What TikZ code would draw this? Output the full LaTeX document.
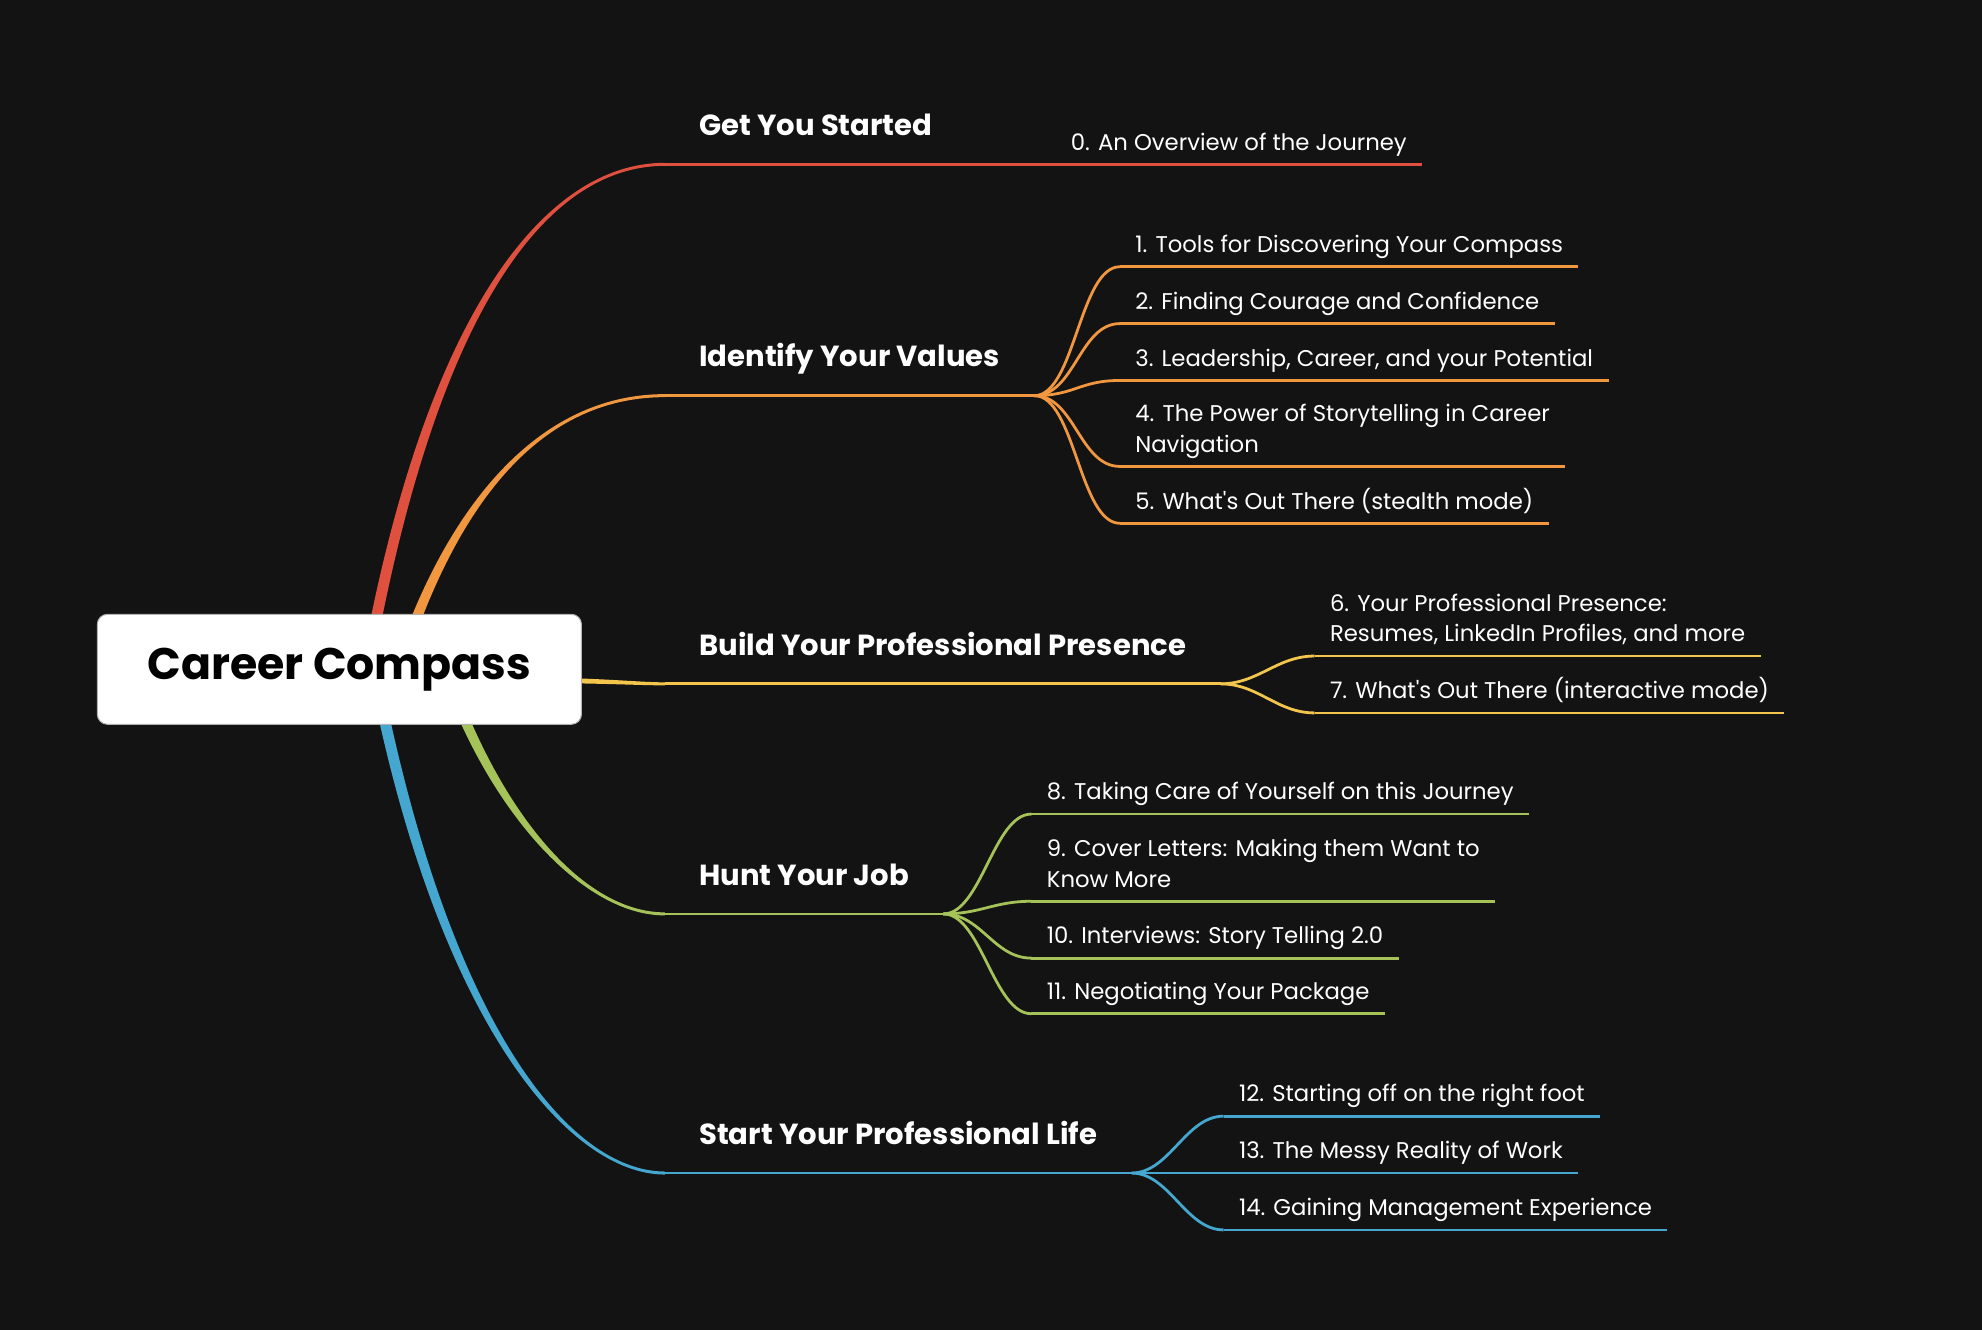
\documentclass[tikz,border=0pt]{standalone}
\usepackage{fontspec}
\setmainfont{Poppins}
\usetikzlibrary{calc}

\definecolor{bgDark}{HTML}{131313}
\definecolor{capRed}{HTML}{E0503F}
\definecolor{capOrange}{HTML}{F0973F}
\definecolor{capYellow}{HTML}{F4C54C}
\definecolor{capGreen}{HTML}{A6C35A}
\definecolor{capBlue}{HTML}{45A7CF}

\pgfdeclarelayer{bgLayer}
\pgfdeclarelayer{lineLayer}
\pgfsetlayers{bgLayer,lineLayer,main}

\newcommand{\lowEnd}{\rule[-5pt]{0pt}{5pt}}
\newcommand{\mainBranch}[6]{%
  \fill[#1] ($#2+(-4.5,0)$) .. controls ($#3+(-4.5,0)$) and ($#4+(0,{-(#6)})$) .. ($(#5)+(0,{-(#6)})$)
    -- ($(#5)+(0,{#6})$) .. controls ($#4+(0,{#6})$) and ($#3+(4.5,0)$) .. ($#2+(4.5,0)$) -- cycle;}

\begin{document}
\begin{tikzpicture}[x=1pt, y=-1pt,
  rootNode/.style={rounded corners=8pt, fill=white, draw=gray!60, line width=0.8pt, minimum width=383pt, minimum height=87pt, text=black, font=\fontsize{35}{42}\selectfont\bfseries},
  headNode/.style={anchor=south west, inner xsep=27pt, inner ysep=22.5pt, text depth=0pt, text=white, font=\fontsize{23}{28}\selectfont\bfseries},
  subNode/.style={anchor=south west, inner xsep=12pt, inner ysep=6pt, align=left, text=white, font=\fontsize{18}{24}\selectfont},
  edgeLine/.style={line width=2.2pt}
]
\useasboundingbox (0,0) rectangle (1568,1052);
\begin{pgfonlayer}{bgLayer}
\fill[bgDark] (0,0) rectangle (1568,1052);
\end{pgfonlayer}

\node[rootNode] (root) at (268.5,529.5) {Career Compass};

\node[headNode] (h0) at (526,130) {Get You Started};
\node[headNode] (h1) at (526,313) {Identify Your Values};
\node[headNode] (h2) at (526,541) {Build Your Professional Presence};
\node[headNode] (h3) at (526,723) {Hunt Your Job};
\node[headNode] (h4) at (526,928) {Start Your Professional Life};

\node[subNode] (s0)  at (835,130)  {0. An Overview of the Journey\lowEnd};
\node[subNode] (s1)  at (886,211)  {1. Tools for Discovering Your Compass\lowEnd};
\node[subNode] (s2)  at (886,256)  {2. Finding Courage and Confidence\lowEnd};
\node[subNode] (s3)  at (886,301)  {3. Leadership, Career, and your Potential\lowEnd};
\node[subNode] (s4)  at (886,369)  {4. The Power of Storytelling in Career\\Navigation\lowEnd};
\node[subNode] (s5)  at (886,414)  {5. What\textquotesingle s Out There (stealth mode)\lowEnd};
\node[subNode] (s6)  at (1040,519) {6. Your Professional Presence:\\Resumes, LinkedIn Profiles, and more\lowEnd};
\node[subNode] (s7)  at (1040,564) {7. What\textquotesingle s Out There (interactive mode)\lowEnd};
\node[subNode] (s8)  at (816,644)  {8. Taking Care of Yourself on this Journey\lowEnd};
\node[subNode] (s9)  at (816,713)  {9. Cover Letters: Making them Want to\\Know More\lowEnd};
\node[subNode] (s10) at (816,758)  {10. Interviews: Story Telling 2.0\lowEnd};
\node[subNode] (s11) at (816,802)  {11. Negotiating Your Package\lowEnd};
\node[subNode] (s12) at (968,883)  {12. Starting off on the right foot\lowEnd};
\node[subNode] (s13) at (968,928)  {13. The Messy Reality of Work\lowEnd};
\node[subNode] (s14) at (968,973)  {14. Gaining Management Experience\lowEnd};

\foreach \n/\c in {h0/capRed, s0/capRed, h1/capOrange, s1/capOrange, s2/capOrange, s3/capOrange, s4/capOrange, s5/capOrange,
  h2/capYellow, s6/capYellow, s7/capYellow, h3/capGreen, s8/capGreen, s9/capGreen, s10/capGreen, s11/capGreen,
  h4/capBlue, s12/capBlue, s13/capBlue, s14/capBlue}
  \draw[edgeLine, \c] (\n.south west) -- (\n.south east);

\begin{pgfonlayer}{lineLayer}
\mainBranch{capRed}{(root.center)+(21.5,0)}{(340,250)}{(430,130)}{h0.south west}{1.2}
\mainBranch{capOrange}{(root.center)+(46.5,0)}{(350,420)}{(415,313)}{h1.south west}{1.2}
\mainBranch{capGreen}{(root.center)+(83.5,0)}{(390,640)}{(460,723)}{h3.south west}{-1.2}
\mainBranch{capBlue}{(root.center)+(27.5,0)}{(350,809)}{(450,928)}{h4.south west}{-1.2}
\fill[capYellow] ($(root.center)+(150,8.5)+(0,-2.2)$) .. controls (480,536.5) and (505,539.8) .. ($(h2.south west)+(0,-1.2)$)
  -- ($(h2.south west)+(0,1.2)$) .. controls (505,542.2) and (480,540.5) .. ($(root.center)+(150,8.5)+(0,2.2)$) -- cycle;

\draw[edgeLine, capRed] (h0.south east) -- (s0.south west);
\foreach \s in {s1,s2,s3,s4,s5}
  \draw[edgeLine, capOrange] (h1.south east) .. controls +(32,0) and +(-32,0) .. (\s.south west);
\foreach \s in {s6,s7}
  \draw[edgeLine, capYellow] (h2.south east) .. controls +(30,0) and +(-30,0) .. (\s.south west);
\foreach \s in {s8,s9,s10,s11}
  \draw[edgeLine, capGreen] (h3.south east) .. controls +(30,0) and +(-30,0) .. (\s.south west);
\foreach \s in {s12,s13,s14}
  \draw[edgeLine, capBlue] (h4.south east) .. controls +(30,0) and +(-30,0) .. (\s.south west);
\end{pgfonlayer}
\end{tikzpicture}
\end{document}
